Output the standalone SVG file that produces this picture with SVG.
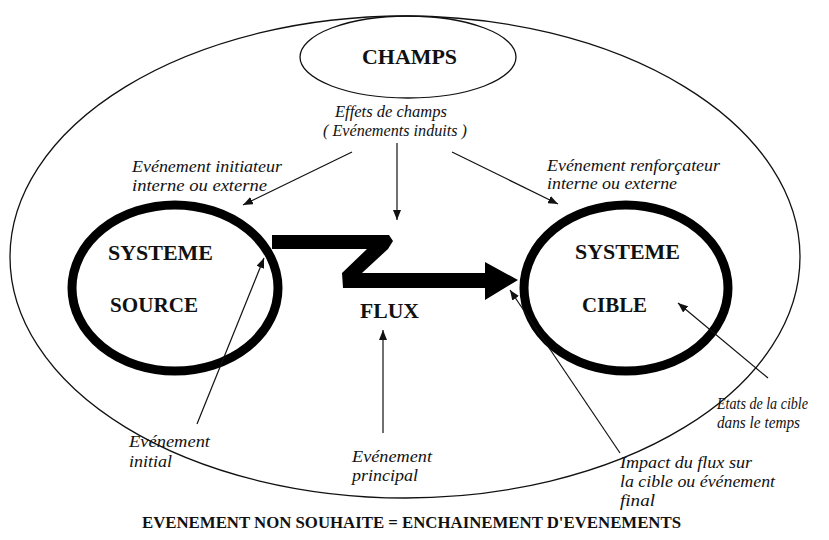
<svg xmlns="http://www.w3.org/2000/svg" width="829" height="540" viewBox="0 0 829 540">
  <style>
    .thin { fill: none; stroke: #111; stroke-width: 1.3; }
    .sys { fill: none; stroke: #000; stroke-width: 9; }
    .link { fill: none; stroke: #111; stroke-width: 1.2; marker-end: url(#head); }
    text { font-family: 'Liberation Serif', 'DejaVu Serif', serif; fill: #111; }
    .cap { font-weight: bold; font-size: 21px; }
    .lbl { font-style: italic; font-size: 16px; }
    .foot { font-weight: bold; font-size: 16px; }
  </style>
  <defs>
    <marker id="head" viewBox="0 0 10 8" refX="10" refY="4" markerWidth="10" markerHeight="8" markerUnits="userSpaceOnUse" orient="auto">
      <path d="M0,0 L10,4 L0,8 Z" fill="#111"/>
    </marker>
  </defs>
  <rect width="829" height="540" fill="#fff"/>

  <!-- surrounding field -->
  <g id="field">
    <ellipse class="thin" cx="405" cy="257" rx="395" ry="241"/>
  </g>

  <!-- CHAMPS -->
  <g id="champs">
    <ellipse class="thin" cx="408" cy="57" rx="108" ry="41"/>
    <text class="cap" x="362" y="64" textLength="95" lengthAdjust="spacingAndGlyphs">CHAMPS</text>
  </g>

  <!-- source system -->
  <g id="source">
    <ellipse class="sys" cx="175" cy="288" rx="103" ry="83"/>
    <text class="cap" x="108" y="260" textLength="105" lengthAdjust="spacingAndGlyphs">SYSTEME</text>
    <text class="cap" x="110" y="312" textLength="88" lengthAdjust="spacingAndGlyphs">SOURCE</text>
  </g>

  <!-- target system -->
  <g id="cible">
    <ellipse class="sys" cx="626" cy="288" rx="102" ry="83"/>
    <text class="cap" x="575" y="259" textLength="105" lengthAdjust="spacingAndGlyphs">SYSTEME</text>
    <text class="cap" x="582" y="312" textLength="65" lengthAdjust="spacingAndGlyphs">CIBLE</text>
  </g>

  <!-- main flow -->
  <g id="flux">
    <polygon fill="#000" points="272,235 389,235 393,241 388,249 362,273 485,273 485,262 518,280 485,300 485,288 343,288 342,273 367,249 272,249"/>
    <text class="cap" x="360" y="318" textLength="59" lengthAdjust="spacingAndGlyphs">FLUX</text>
  </g>

  <!-- labels -->
  <g id="effets">
    <text class="lbl" x="335" y="117" textLength="112" lengthAdjust="spacingAndGlyphs">Effets de champs</text>
    <text class="lbl" x="323" y="136" textLength="144" lengthAdjust="spacingAndGlyphs">( Evénements induits )</text>
  </g>
  <g id="initiateur">
    <text class="lbl" x="132" y="172" textLength="150" lengthAdjust="spacingAndGlyphs">Evénement initiateur</text>
    <text class="lbl" x="132" y="191" textLength="135" lengthAdjust="spacingAndGlyphs">interne ou externe</text>
  </g>
  <g id="renforcateur">
    <text class="lbl" x="547" y="171" textLength="173" lengthAdjust="spacingAndGlyphs">Evénement renforçateur</text>
    <text class="lbl" x="547" y="189" textLength="130" lengthAdjust="spacingAndGlyphs">interne ou externe</text>
  </g>
  <g id="initial">
    <text class="lbl" x="129" y="447" textLength="81" lengthAdjust="spacingAndGlyphs">Evénement</text>
    <text class="lbl" x="129" y="467" textLength="43" lengthAdjust="spacingAndGlyphs">initial</text>
  </g>
  <g id="principal">
    <text class="lbl" x="352" y="462" textLength="80" lengthAdjust="spacingAndGlyphs">Evénement</text>
    <text class="lbl" x="352" y="481" textLength="66" lengthAdjust="spacingAndGlyphs">principal</text>
  </g>
  <g id="etats">
    <text class="lbl" x="717" y="409" textLength="91" lengthAdjust="spacingAndGlyphs">Etats de la cible</text>
    <text class="lbl" x="717" y="428" textLength="83" lengthAdjust="spacingAndGlyphs">dans le temps</text>
  </g>
  <g id="impact">
    <text class="lbl" x="620" y="468" textLength="132" lengthAdjust="spacingAndGlyphs">Impact du flux sur</text>
    <text class="lbl" x="620" y="487" textLength="155" lengthAdjust="spacingAndGlyphs">la cible ou événement</text>
    <text class="lbl" x="620" y="506" textLength="35" lengthAdjust="spacingAndGlyphs">final</text>
  </g>

  <!-- connectors -->
  <g id="connectors">
    <line class="link" x1="352" y1="152" x2="243" y2="205"/>
    <line class="link" x1="397" y1="143" x2="397" y2="220"/>
    <line class="link" x1="452" y1="152" x2="558" y2="204"/>
    <line class="link" x1="197" y1="424" x2="264" y2="258"/>
    <line class="link" x1="383" y1="433" x2="383" y2="330"/>
    <line class="link" x1="620" y1="453" x2="510" y2="290"/>
    <line class="link" x1="768" y1="378" x2="678" y2="303"/>
  </g>

  <text class="foot" x="142" y="528" textLength="539" lengthAdjust="spacingAndGlyphs">EVENEMENT NON SOUHAITE = ENCHAINEMENT D'EVENEMENTS</text>
</svg>
